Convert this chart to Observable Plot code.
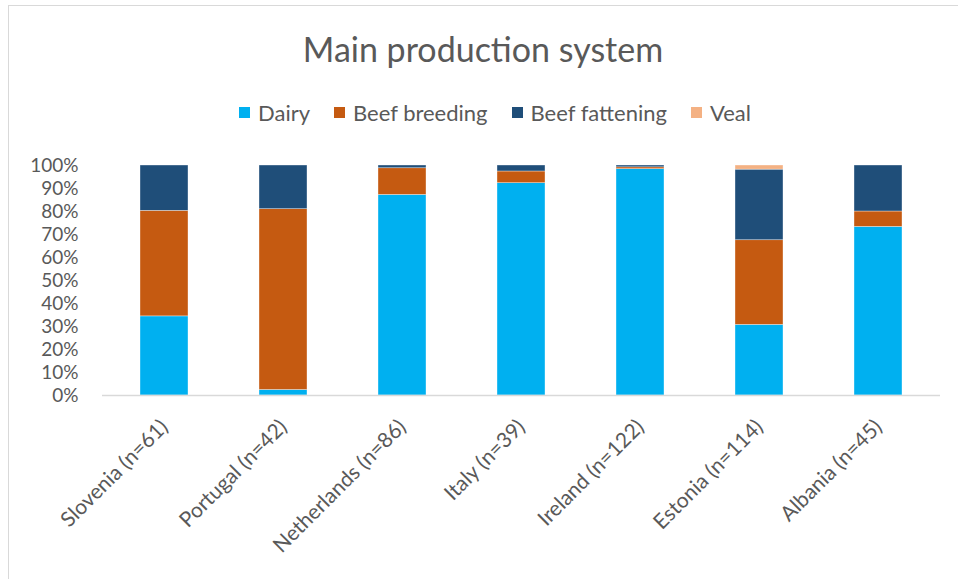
<!DOCTYPE html>
<html>
<head>
<meta charset="utf-8">
<script src="https://cdn.jsdelivr.net/npm/d3@7"></script>
<script src="https://cdn.jsdelivr.net/npm/@observablehq/plot@0.6"></script>
<style>
  html, body { margin: 0; padding: 0; background: #fff; }
  body { width: 958px; height: 579px; overflow: hidden; position: relative; font-family: Lato, "Open Sans", sans-serif; color: #595959; }
  #frame { position: absolute; left: 8px; top: 5px; width: 1000px; height: 700px; border: 1.5px solid #d9d9d9; box-sizing: border-box; }
  #title { position: absolute; left: 0; width: 966px; top: 28px; text-align: center; font-size: 34px; color: #595959; }
  #legend { position: absolute; left: 0; width: 990px; top: 99px; display: flex; justify-content: center; font-size: 22px; color: #595959; }
  .item { display: flex; align-items: center; margin: 0 12px; }
  .sw { width: 11px; height: 11px; margin-right: 8px; }
  #chart { position: absolute; left: 0; top: 135px; }
</style>
</head>
<body>
<div id="frame"></div>
<div id="title">Main production system</div>
<div id="legend"></div>
<div id="chart"></div>
<script>
const categories = ["Slovenia (n=61)", "Portugal (n=42)", "Netherlands (n=86)", "Italy (n=39)", "Ireland (n=122)", "Estonia (n=114)", "Albania (n=45)"];
const seriesNames = ["Dairy", "Beef breeding", "Beef fattening", "Veal"];
const seriesColors = ["#00B0F0", "#C55A11", "#1F4E79", "#F4B183"];
const dairy =     [34.4,  2.4, 87.2, 92.3, 98.4, 30.7, 73.3];
const breeding =  [45.9, 78.6, 11.6,  5.1,  0.8, 36.8,  6.7];
const fattening = [19.7, 19.0,  1.2,  2.6,  0.8, 30.7, 20.0];
const veal =      [ 0.0,  0.0,  0.0,  0.0,  0.0,  1.8,  0.0];
const yTicks = [0, 10, 20, 30, 40, 50, 60, 70, 80, 90, 100];

const seriesValues = [dairy, breeding, fattening, veal];
const rows = [];
seriesNames.forEach((s, si) => {
  categories.forEach((c, ci) => {
    rows.push({category: c, series: s, value: seriesValues[si][ci]});
  });
});

// legend
const legend = document.getElementById("legend");
seriesNames.forEach((s, i) => {
  const it = document.createElement("div");
  it.className = "item";
  const sw = document.createElement("div");
  sw.className = "sw";
  sw.style.background = seriesColors[i];
  const tx = document.createElement("span");
  tx.textContent = s;
  it.appendChild(sw); it.appendChild(tx);
  legend.appendChild(it);
});

const chart = Plot.plot({
  width: 958,
  height: 444,
  marginTop: 30,
  marginBottom: 184,
  marginLeft: 102,
  marginRight: 18,
  style: {fontFamily: "Lato, 'Open Sans', sans-serif", color: "#595959", background: "transparent"},
  x: {domain: categories, paddingInner: 0.6, paddingOuter: 0.3, label: null},
  y: {domain: [0, 100], label: null},
  color: {domain: seriesNames, range: seriesColors},
  marks: [
    Plot.barY(rows, Plot.stackY({order: seriesNames}, {x: "category", y: "value", fill: "series", stroke: "white", strokeWidth: 0.6, strokeOpacity: 0.6})),
    Plot.ruleY([0], {stroke: "#d9d9d9", strokeWidth: 1.5}),
    Plot.axisY({ticks: yTicks, tickFormat: d => d + "%", tickSize: 0, tickPadding: 0, dx: -24, fontSize: 19, label: null}),
    Plot.axisX({tickSize: 0, tickRotate: -45, tickPadding: 28, dx: 0, fontSize: 21, label: null})
  ]
});
document.getElementById("chart").appendChild(chart);
</script>
</body>
</html>
